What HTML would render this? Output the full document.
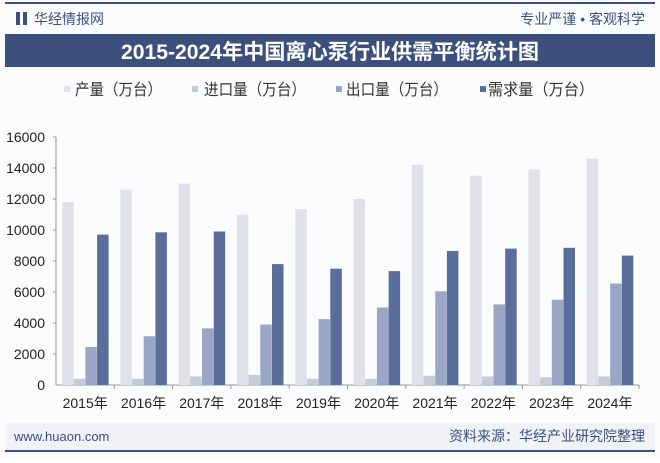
<!DOCTYPE html>
<html><head><meta charset="utf-8"><style>
body{margin:0;width:660px;height:458px;background:#fff;overflow:hidden;font-family:"Liberation Sans","Noto Sans CJK SC",sans-serif;}
</style></head><body>
<svg width="660" height="458" xmlns="http://www.w3.org/2000/svg" font-family="Liberation Sans, Noto Sans CJK SC, sans-serif">
<rect x="0" y="0" width="660" height="458" fill="#fbfcfd"/>
<rect x="5" y="2" width="650" height="2" fill="#3d4f7d"/>
<rect x="16" y="12" width="4" height="13" fill="#3d4f7d"/><rect x="23" y="12" width="4" height="13" fill="#3d4f7d"/>
<text x="34" y="24" font-size="14" fill="#3d4f7d">华经情报网</text>
<text x="645" y="24" font-size="14" fill="#3d4f7d" text-anchor="end">专业严谨 • 客观科学</text>
<rect x="5" y="34" width="650" height="33" fill="#3d4f7d"/>
<text x="121" y="59" font-size="21" font-weight="bold" fill="#fff" textLength="418" lengthAdjust="spacingAndGlyphs" font-family="Liberation Sans, Noto Sans CJK SC, sans-serif">2015-2024年中国离心泵行业供需平衡统计图</text>
<g font-size="16" fill="#333">
<rect x="64" y="86" width="6" height="6" fill="#dfe2eb"/><text x="75" y="95" textLength="87" lengthAdjust="spacingAndGlyphs">产量（万台）</text>
<rect x="192" y="86" width="6" height="6" fill="#c6cbda"/><text x="204" y="95" textLength="102" lengthAdjust="spacingAndGlyphs">进口量（万台）</text>
<rect x="336" y="86" width="6" height="6" fill="#9aa7c4"/><text x="346" y="95" textLength="102" lengthAdjust="spacingAndGlyphs">出口量（万台）</text>
<rect x="480" y="86" width="6" height="6" fill="#5a6e9c"/><text x="488" y="95" textLength="106" lengthAdjust="spacingAndGlyphs">需求量（万台）</text>
</g>
<g font-size="14" fill="#222" text-anchor="end">
<text x="45" y="390">0</text><text x="45" y="359">2000</text><text x="45" y="328">4000</text><text x="45" y="297">6000</text><text x="45" y="266">8000</text><text x="45" y="235">10000</text><text x="45" y="204">12000</text><text x="45" y="173">14000</text><text x="45" y="142">16000</text>
</g>
<line x1="56" y1="137" x2="56" y2="385" stroke="#999"/>
<line x1="56" y1="385" x2="639" y2="385" stroke="#999"/>
<g stroke="#999">
<line x1="53" y1="137" x2="56" y2="137"/><line x1="53" y1="168" x2="56" y2="168"/><line x1="53" y1="199" x2="56" y2="199"/><line x1="53" y1="230" x2="56" y2="230"/><line x1="53" y1="261" x2="56" y2="261"/><line x1="53" y1="292" x2="56" y2="292"/><line x1="53" y1="323" x2="56" y2="323"/><line x1="53" y1="354" x2="56" y2="354"/>
<line x1="114.3" y1="385" x2="114.3" y2="389"/><line x1="172.6" y1="385" x2="172.6" y2="389"/><line x1="230.9" y1="385" x2="230.9" y2="389"/><line x1="289.2" y1="385" x2="289.2" y2="389"/><line x1="347.5" y1="385" x2="347.5" y2="389"/><line x1="405.8" y1="385" x2="405.8" y2="389"/><line x1="464.1" y1="385" x2="464.1" y2="389"/><line x1="522.4" y1="385" x2="522.4" y2="389"/><line x1="580.7" y1="385" x2="580.7" y2="389"/><line x1="639" y1="385" x2="639" y2="389"/>
</g>
<g transform="translate(56,0)"><rect x="6" y="202.1" width="11.5" height="182.9" fill="#dfe2eb"/><rect x="17.7" y="378.8" width="11.5" height="6.2" fill="#c6cbda"/><rect x="29.4" y="347" width="11.5" height="38" fill="#9aa7c4"/><rect x="41.1" y="234.6" width="11.5" height="150.4" fill="#5a6e9c"/></g>
<g transform="translate(114.3,0)"><rect x="6" y="189.7" width="11.5" height="195.3" fill="#dfe2eb"/><rect x="17.7" y="378.8" width="11.5" height="6.2" fill="#c6cbda"/><rect x="29.4" y="336.2" width="11.5" height="48.8" fill="#9aa7c4"/><rect x="41.1" y="232.3" width="11.5" height="152.7" fill="#5a6e9c"/></g>
<g transform="translate(172.6,0)"><rect x="6" y="183.5" width="11.5" height="201.5" fill="#dfe2eb"/><rect x="17.7" y="376.5" width="11.5" height="8.5" fill="#c6cbda"/><rect x="29.4" y="328.4" width="11.5" height="56.6" fill="#9aa7c4"/><rect x="41.1" y="231.5" width="11.5" height="153.5" fill="#5a6e9c"/></g>
<g transform="translate(230.9,0)"><rect x="6" y="214.5" width="11.5" height="170.5" fill="#dfe2eb"/><rect x="17.7" y="374.9" width="11.5" height="10.1" fill="#c6cbda"/><rect x="29.4" y="324.5" width="11.5" height="60.5" fill="#9aa7c4"/><rect x="41.1" y="264.1" width="11.5" height="120.9" fill="#5a6e9c"/></g>
<g transform="translate(289.2,0)"><rect x="6" y="209.1" width="11.5" height="175.9" fill="#dfe2eb"/><rect x="17.7" y="378.8" width="11.5" height="6.2" fill="#c6cbda"/><rect x="29.4" y="319.1" width="11.5" height="65.9" fill="#9aa7c4"/><rect x="41.1" y="268.7" width="11.5" height="116.3" fill="#5a6e9c"/></g>
<g transform="translate(347.5,0)"><rect x="6" y="199" width="11.5" height="186" fill="#dfe2eb"/><rect x="17.7" y="378.8" width="11.5" height="6.2" fill="#c6cbda"/><rect x="29.4" y="307.5" width="11.5" height="77.5" fill="#9aa7c4"/><rect x="41.1" y="271.1" width="11.5" height="113.9" fill="#5a6e9c"/></g>
<g transform="translate(405.8,0)"><rect x="6" y="164.9" width="11.5" height="220.1" fill="#dfe2eb"/><rect x="17.7" y="375.7" width="11.5" height="9.3" fill="#c6cbda"/><rect x="29.4" y="291.2" width="11.5" height="93.8" fill="#9aa7c4"/><rect x="41.1" y="250.9" width="11.5" height="134.1" fill="#5a6e9c"/></g>
<g transform="translate(464.1,0)"><rect x="6" y="175.7" width="11.5" height="209.3" fill="#dfe2eb"/><rect x="17.7" y="376.5" width="11.5" height="8.5" fill="#c6cbda"/><rect x="29.4" y="304.4" width="11.5" height="80.6" fill="#9aa7c4"/><rect x="41.1" y="248.6" width="11.5" height="136.4" fill="#5a6e9c"/></g>
<g transform="translate(522.4,0)"><rect x="6" y="169.5" width="11.5" height="215.5" fill="#dfe2eb"/><rect x="17.7" y="377.2" width="11.5" height="7.8" fill="#c6cbda"/><rect x="29.4" y="299.7" width="11.5" height="85.3" fill="#9aa7c4"/><rect x="41.1" y="247.8" width="11.5" height="137.2" fill="#5a6e9c"/></g>
<g transform="translate(580.7,0)"><rect x="6" y="158.7" width="11.5" height="226.3" fill="#dfe2eb"/><rect x="17.7" y="376.5" width="11.5" height="8.5" fill="#c6cbda"/><rect x="29.4" y="283.5" width="11.5" height="101.5" fill="#9aa7c4"/><rect x="41.1" y="255.6" width="11.5" height="129.4" fill="#5a6e9c"/></g>
<g font-size="14" fill="#222" text-anchor="middle">
<text x="85.2" y="408">2015年</text><text x="143.5" y="408">2016年</text><text x="201.8" y="408">2017年</text><text x="260.1" y="408">2018年</text><text x="318.4" y="408">2019年</text><text x="376.7" y="408">2020年</text><text x="435" y="408">2021年</text><text x="493.3" y="408">2022年</text><text x="551.6" y="408">2023年</text><text x="609.9" y="408">2024年</text>
</g>
<rect x="5" y="423" width="650" height="27" fill="#f0f2f6"/>
<text x="14" y="441" font-size="13" fill="#3d4f7d">www.huaon.com</text>
<text x="645" y="441" font-size="14" fill="#3d4f7d" text-anchor="end">资料来源：华经产业研究院整理</text>
<rect x="5" y="450" width="650" height="2" fill="#3d4f7d"/>
</svg>
</body></html>
